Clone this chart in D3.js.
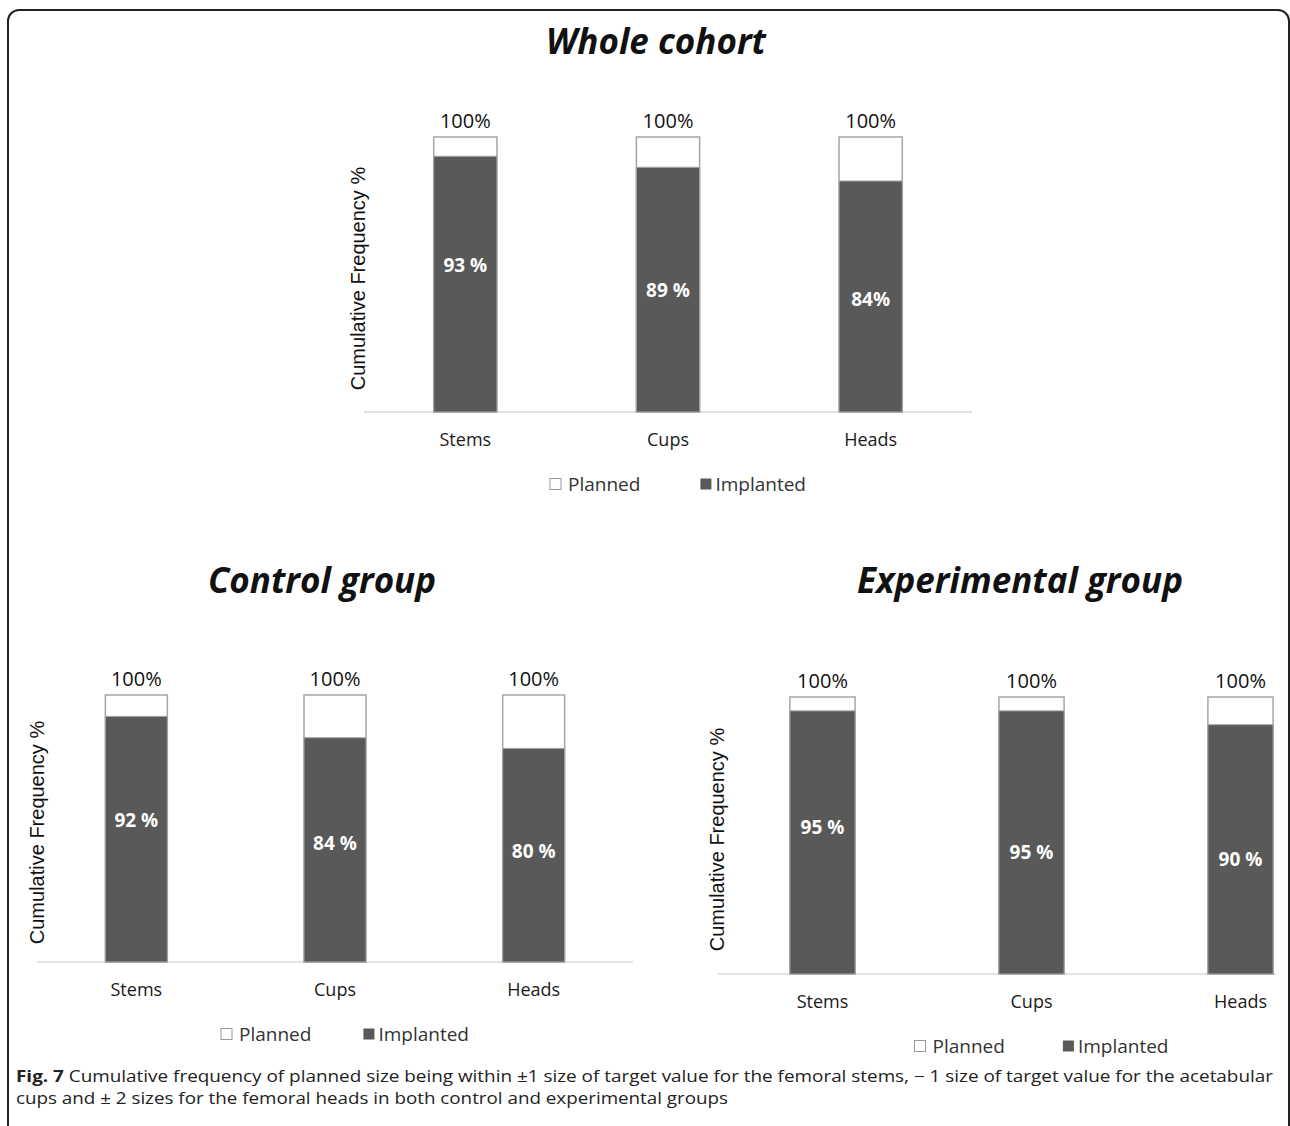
<!DOCTYPE html>
<html lang="en">
<head>
    <meta charset="UTF-8">
    <title>Fig. 7 Cumulative frequency</title>
    <script src="https://d3js.org/d3.v7.min.js"></script>
    <style>
        body {
            margin: 0;
            padding: 0;
            background: #fff;
        }
        svg text {
            font-family: "Open Sans", sans-serif;
            fill: #111;
        }
        .title {
            font-size: 35px;
            font-weight: bold;
            font-style: italic;
        }
        .ytitle {
            font-family: "Liberation Sans", Arial, sans-serif !important;
            font-size: 20px;
        }
        .cat { font-size: 18px; fill: #1a1a1a !important; }
        .top-label { font-size: 20px; }
        .bar-label {
            font-size: 19px;
            font-weight: bold;
            fill: #fff !important;
        }
        .legend { font-size: 19px; fill: #333 !important; }
        .caption { font-size: 16px; fill: #222 !important; }
    </style>
</head>
<body>
    <svg width="1290" height="1126"></svg>

    <script>
        // data
        const categories = ["Stems", "Cups", "Heads"];
        const seriesNames = ["Planned", "Implanted"];
        const plannedValues = [100, 100, 100];
        const plannedLabels = ["100%", "100%", "100%"];

        const wholeImplanted = [93, 89, 84];
        const wholeLabels = ["93 %", "89 %", "84%"];

        const controlImplanted = [92, 84, 80];
        const controlLabels = ["92 %", "84 %", "80 %"];

        const experimentalImplanted = [95, 95, 90];
        const experimentalLabels = ["95 %", "95 %", "90 %"];

        const panelTitles = ["Whole cohort", "Control group", "Experimental group"];
        const yAxisTitle = "Cumulative Frequency %";

        const captionBold = "Fig. 7";
        const captionLine1 = " Cumulative frequency of planned size being within \u00b11 size of target value for the femoral stems, \u2212 1 size of target value for the acetabular";
        const captionLine2 = "cups and \u00b1 2 sizes for the femoral heads in both control and experimental groups";

        const darkFill = "#595959";
        const barStroke = "#a6a6a6";

        const svg = d3.select("svg");

        // frame round the figure (bottom runs off the page)
        svg.append("rect")
            .attr("x", 8).attr("y", 10)
            .attr("width", 1281).attr("height", 1200)
            .attr("rx", 11)
            .attr("fill", "none")
            .attr("stroke", "#222")
            .attr("stroke-width", 2);

        // layout of each panel
        const panels = [
            { title: panelTitles[0], implanted: wholeImplanted, labels: wholeLabels,
              x0: 364, x1: 972, yTop: 137, yBase: 412, titleX: 656, titleY: 54,
              yTitleX: 358, nudge: [-19, 0, 2], legendGap: 60 },
            { title: panelTitles[1], implanted: controlImplanted, labels: controlLabels,
              x0: 37, x1: 633, yTop: 695, yBase: 962, titleX: 322, titleY: 593,
              yTitleX: 37, nudge: [-19, -7, -4], legendGap: 52 },
            { title: panelTitles[2], implanted: experimentalImplanted, labels: experimentalLabels,
              x0: 718, x1: 1345, yTop: 697, yBase: 974, titleX: 1020, titleY: 593,
              yTitleX: 717, nudge: [-15, 10, 10], legendGap: 58, clipRight: 1276 }
        ];

        panels.forEach(function(p, i) {
            let g = svg.append("g");
            if (p.clipRight) {
                svg.append("clipPath").attr("id", "clip" + i)
                    .append("rect")
                    .attr("x", 0).attr("y", 0)
                    .attr("width", p.clipRight).attr("height", 1126);
                g.attr("clip-path", `url(#clip${i})`);
            }

            const x = d3.scaleBand()
                .domain(categories)
                .range([p.x0, p.x1])
                .paddingInner(0.688)
                .paddingOuter(0.344);

            const y = d3.scaleLinear()
                .domain([0, 100])
                .range([p.yBase, p.yTop]);

            svg.append("text")
                .attr("class", "title")
                .attr("x", p.titleX)
                .attr("y", p.titleY)
                .attr("text-anchor", "middle")
                .text(p.title);

            // baseline
            g.append("line")
                .attr("x1", p.x0).attr("x2", p.x1)
                .attr("y1", y(0)).attr("y2", y(0))
                .attr("stroke", "#d9d9d9")
                .attr("stroke-width", 1.5);

            // planned bars (white, full height)
            g.selectAll(".planned")
                .data(categories)
                .enter()
                .append("rect")
                .attr("x", d => x(d))
                .attr("y", (d, j) => y(plannedValues[j]))
                .attr("width", x.bandwidth())
                .attr("height", (d, j) => y(0) - y(plannedValues[j]))
                .attr("fill", "#fff")
                .attr("stroke", barStroke)
                .attr("stroke-width", 1.5);

            // implanted bars
            g.selectAll(".implanted")
                .data(categories)
                .enter()
                .append("rect")
                .attr("x", d => x(d))
                .attr("y", (d, j) => y(p.implanted[j]))
                .attr("width", x.bandwidth())
                .attr("height", (d, j) => y(0) - y(p.implanted[j]))
                .attr("fill", darkFill)
                .attr("stroke", barStroke)
                .attr("stroke-width", 1);

            // 100% labels on top
            g.selectAll(".top-label")
                .data(categories)
                .enter()
                .append("text")
                .attr("class", "top-label")
                .attr("x", d => x(d) + x.bandwidth() / 2)
                .attr("y", (d, j) => y(plannedValues[j]) - 17)
                .attr("text-anchor", "middle")
                .attr("dominant-baseline", "central")
                .text((d, j) => plannedLabels[j]);

            // implanted labels inside bars
            g.selectAll(".bar-label")
                .data(categories)
                .enter()
                .append("text")
                .attr("class", "bar-label")
                .attr("x", d => x(d) + x.bandwidth() / 2)
                .attr("y", (d, j) => (y(p.implanted[j]) + y(0)) / 2 + p.nudge[j])
                .attr("text-anchor", "middle")
                .attr("dominant-baseline", "central")
                .text((d, j) => p.labels[j]);

            // category labels
            g.selectAll(".cat")
                .data(categories)
                .enter()
                .append("text")
                .attr("class", "cat")
                .attr("x", d => x(d) + x.bandwidth() / 2)
                .attr("y", y(0) + 27)
                .attr("text-anchor", "middle")
                .attr("dominant-baseline", "central")
                .text(d => d);

            // y axis title
            svg.append("text")
                .attr("class", "ytitle")
                .attr("transform", `translate(${p.yTitleX},${(p.yTop + p.yBase) / 2 + 4}) rotate(-90)`)
                .attr("text-anchor", "middle")
                .attr("dominant-baseline", "central")
                .text(yAxisTitle);

            // legend
            const mid = x(categories[1]) + x.bandwidth() / 2 + 10;
            const legend = svg.append("g");
            const item1 = legend.append("g");
            item1.append("rect")
                .attr("width", 11).attr("height", 11)
                .attr("y", -5.5)
                .attr("fill", "#fff").attr("stroke", "#999");
            const t1 = item1.append("text").attr("class", "legend")
                .attr("x", 18).attr("dominant-baseline", "central")
                .text(seriesNames[0]);
            const w1 = 18 + t1.node().getComputedTextLength();

            const item2 = legend.append("g").attr("transform", `translate(${w1 + p.legendGap},0)`);
            item2.append("rect")
                .attr("width", 11).attr("height", 11)
                .attr("y", -5.5)
                .attr("fill", darkFill);
            const t2 = item2.append("text").attr("class", "legend")
                .attr("x", 15).attr("dominant-baseline", "central")
                .text(seriesNames[1]);
            const total = w1 + p.legendGap + 15 + t2.node().getComputedTextLength();
            legend.attr("transform", `translate(${mid - total / 2},${y(0) + 72})`);
        });

        // caption, stretched to the widths of the printed lines
        const cap1 = svg.append("text")
            .attr("class", "caption")
            .attr("x", 16).attr("y", 1082)
            .attr("textLength", 1257)
            .attr("lengthAdjust", "spacingAndGlyphs");
        cap1.append("tspan").attr("font-weight", "bold").text(captionBold);
        cap1.append("tspan").text(captionLine1);

        svg.append("text")
            .attr("class", "caption")
            .attr("x", 16).attr("y", 1104)
            .attr("textLength", 712)
            .attr("lengthAdjust", "spacingAndGlyphs")
            .text(captionLine2);
    </script>
</body>
</html>
